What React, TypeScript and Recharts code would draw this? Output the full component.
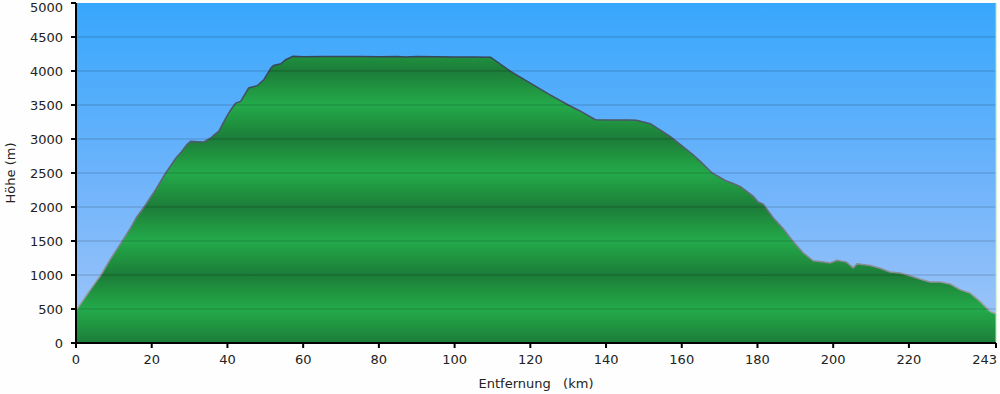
import React from "react"
import { Area, AreaChart, CartesianGrid, ReferenceLine, XAxis, YAxis } from "recharts"

// distance (km) and height (m)
const distanceKm = [
  0, 2, 4, 6.6, 9, 12, 14.5, 16, 18, 21, 23.7, 26.4, 27.7, 29.3, 30.3, 32, 33.8, 35.6, 36.5,
  37.7, 39.6, 40.9, 42.2, 43.5, 45.6, 48, 49.6, 51.5, 52.2, 54.1, 55.4, 57.3, 60, 65, 70, 75, 80,
  85, 87, 90, 95, 100, 105, 109.5, 114.8, 120, 125, 130, 133, 137.2, 142, 146, 148, 151.7, 157,
  163, 164.9, 168, 171.5, 173.4, 175.5, 178.9, 180.2, 181.5, 184.2, 186.8, 189.4, 192.1, 194.7,
  197.4, 199.2, 201, 203.5, 205.3, 206.3, 209.8, 212.4, 215, 217.7, 220.3, 222.9, 225.6, 228.2,
  230.9, 233.5, 236.1, 238.8, 241.4, 243,
]
const heightM = [
  480, 640, 800, 1000, 1225, 1480, 1700, 1850, 2000, 2250, 2500, 2720, 2800, 2920, 2965, 2960,
  2956, 3015, 3060, 3112, 3309, 3431, 3529, 3553, 3750, 3788, 3872, 4044, 4082, 4107, 4166, 4215,
  4210, 4212, 4215, 4212, 4208, 4212, 4206, 4213, 4210, 4206, 4205, 4203, 3995, 3823, 3655, 3500,
  3416, 3284, 3280, 3278, 3274, 3225, 3035, 2769, 2671, 2500, 2390, 2350, 2300, 2156, 2073, 2044,
  1838, 1680, 1494, 1323, 1210, 1190, 1176, 1215, 1190, 1105, 1165, 1140, 1100, 1045, 1030, 990,
  940, 897, 897, 867, 785, 735, 612, 465, 430,
]
const xTicks = [0, 20, 40, 60, 80, 100, 120, 140, 160, 180, 200, 220, 243]
const yTicks = [0, 500, 1000, 1500, 2000, 2500, 3000, 3500, 4000, 4500, 5000]

const data = distanceKm.map((km, i) => ({ km, h: heightM[i] }))

const TOP = 3
const BOTTOM = 343
const font = { fontFamily: "DejaVu Sans, Verdana, sans-serif", fontSize: 13, fill: "#222" }

// green bands: dark at every 1000 m, light in between
const bandStops: { offset: number; color: string }[] = []
for (let h = 5000; h >= 0; h -= 250) {
  const m = h % 1000
  const color = m === 0 ? "#1c7c39" : m === 500 ? "#24aa4c" : "#209440"
  bandStops.push({ offset: (5000 - h) / 5000, color })
}

function YTick(props: any) {
  const { x, y, payload } = props
  // top label is pushed down so it stays inside the picture
  const shift = payload.value === 5000 ? 4 : 0
  return (
    <text x={x} y={y + shift} dy="0.355em" textAnchor="end" {...font}>
      {payload.value}
    </text>
  )
}

function XTick(props: any) {
  const { x, y, payload } = props
  const last = payload.value === 243
  return (
    <text x={last ? x + 1 : x} y={y} dy="0.71em" textAnchor={last ? "end" : "middle"} {...font}>
      {payload.value}
    </text>
  )
}

export default function App() {
  return (
    <div style={{ position: "absolute", left: 0, top: 0, width: 1000, height: 394, background: "#fdfefd" }}>
      <AreaChart width={1000} height={394} data={data} margin={{ top: TOP, right: 4, bottom: 0, left: 0 }}>
        <defs>
          <linearGradient id="sky" gradientUnits="userSpaceOnUse" x1="0" y1={TOP} x2="0" y2={BOTTOM}>
            <stop offset="0" stopColor="#37a7fc" />
            <stop offset="0.5" stopColor="#6cb3fb" />
            <stop offset="1" stopColor="#a3c6f8" />
          </linearGradient>
          <linearGradient id="ground" gradientUnits="userSpaceOnUse" x1="0" y1={TOP} x2="0" y2={BOTTOM}>
            {bandStops.map((s, i) => (
              <stop key={i} offset={s.offset} stopColor={s.color} />
            ))}
          </linearGradient>
          <linearGradient id="edge" gradientUnits="userSpaceOnUse" x1="0" y1={TOP} x2="0" y2={BOTTOM}>
            <stop offset="0" stopColor="#28384e" />
            <stop offset="0.5" stopColor="#5a6270" />
            <stop offset="1" stopColor="#b0b0b0" />
          </linearGradient>
        </defs>
        <CartesianGrid fill="url(#sky)" horizontal={false} vertical={false} />
        <XAxis
          dataKey="km"
          type="number"
          domain={[0, 243]}
          ticks={xTicks}
          interval={0}
          height={51}
          tick={<XTick />}
          tickSize={5}
          tickMargin={7}
          axisLine={{ stroke: "#000", strokeWidth: 2 }}
          tickLine={{ stroke: "#000", strokeWidth: 2 }}
          label={{ value: "Entfernung\u00a0\u00a0\u00a0(km)", position: "insideBottom", offset: 6, style: font }}
        />
        <YAxis
          type="number"
          domain={[0, 5000]}
          ticks={yTicks}
          interval={0}
          width={76}
          tick={<YTick />}
          tickSize={5}
          tickMargin={8}
          axisLine={{ stroke: "#000", strokeWidth: 2 }}
          tickLine={{ stroke: "#000", strokeWidth: 2 }}
          label={{ value: "Höhe (m)", angle: -90, position: "insideLeft", offset: 10, style: { ...font, textAnchor: "middle" } }}
        />
        <Area
          type="linear"
          dataKey="h"
          fill="url(#ground)"
          fillOpacity={1}
          stroke="url(#edge)"
          strokeWidth={1.5}
          isAnimationActive={false}
        />
        {yTicks.slice(1, -1).map((t) => (
          <ReferenceLine key={t} y={t} stroke="#000" strokeOpacity={0.2} strokeWidth={1} />
        ))}
        <ReferenceLine x={243} stroke="#a8e8a8" strokeWidth={1} />
      </AreaChart>
    </div>
  )
}
